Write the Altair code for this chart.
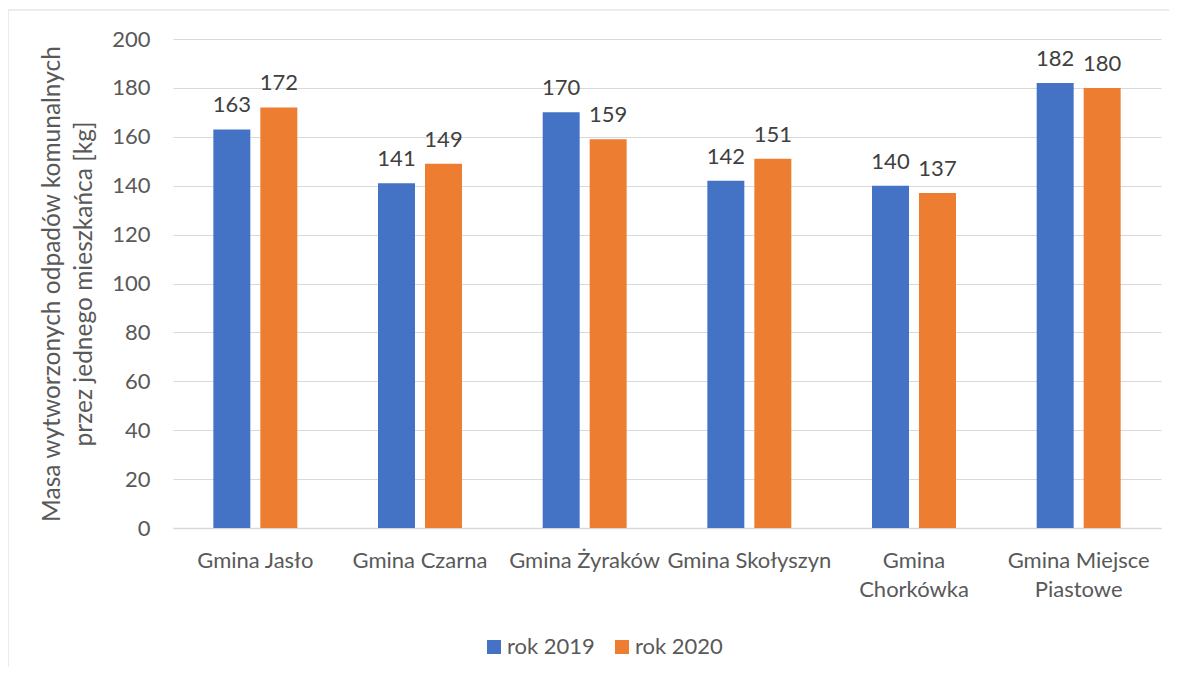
import altair as alt
import pandas as pd

gminy = ["Gmina Jasło", "Gmina Czarna", "Gmina Żyraków", "Gmina Skołyszyn",
         "Gmina|Chorkówka", "Gmina Miejsce|Piastowe"]
serie = ["rok 2019", "rok 2020"]
rok2019 = [163, 141, 170, 142, 140, 182]
rok2020 = [172, 149, 159, 151, 137, 180]
y_ticks = [0, 20, 40, 60, 80, 100, 120, 140, 160, 180, 200]

rows = []
for g, a, b in zip(gminy, rok2019, rok2020):
    rows.append({"gmina": g, "rok": serie[0], "v": a})
    rows.append({"gmina": g, "rok": serie[1], "v": b})
df = pd.DataFrame(rows)

FONT = "Lato"
GRAY = "#595959"
W, H = 988, 489

x_enc = alt.X("gmina:N", sort=gminy,
              scale=alt.Scale(paddingInner=0.49, paddingOuter=0.245),
              axis=alt.Axis(title=None, labelAngle=0, labelExpr="split(datum.label, '|')",
                            ticks=False, domainColor="#d9d9d9", domainWidth=1.5,
                            labelPadding=22, labelBaseline="top", labelLineHeight=29,
                            labelFont=FONT, labelFontSize=22, labelColor=GRAY,
                            labelLimit=400, labelOverlap=False, grid=False))
xo_enc = alt.XOffset("rok:N", sort=serie, scale=alt.Scale(paddingInner=0.213, paddingOuter=0))
y_enc = alt.Y("v:Q", scale=alt.Scale(domain=[0, 200], nice=False),
              axis=alt.Axis(values=y_ticks, grid=True, gridColor="#d9d9d9", domain=False,
                            ticks=False, labelPadding=23, labelFont=FONT, labelFontSize=22,
                            labelColor=GRAY,
                            title=["Masa wytworzonych odpadów komunalnych",
                                   "przez jednego mieszkańca [kg]"],
                            titleFont=FONT, titleFontSize=24.5, titleFontWeight="normal",
                            titleColor=GRAY, titleX=-133, titleY=H / 2, titleAngle=270,
                            titleBaseline="top", titleAlign="center", titleLineHeight=32))

base = alt.Chart(df)
bars = base.mark_bar().encode(
    x=x_enc, xOffset=xo_enc, y=y_enc,
    color=alt.Color("rok:N", sort=serie,
                    scale=alt.Scale(domain=serie, range=["#4472C4", "#ED7D31"]),
                    legend=alt.Legend(title=None, orient="none", legendX=310, legendY=597,
                                      direction="horizontal", symbolType="square",
                                      symbolSize=196, symbolStrokeWidth=0,
                                      labelFont=FONT, labelFontSize=22, labelColor=GRAY,
                                      labelOffset=2, columnPadding=16))
)
labels = base.mark_text(baseline="alphabetic", dy=-17, font=FONT, fontSize=22,
                        color="#404040").encode(
    x=alt.X("gmina:N", sort=gminy, axis=alt.Axis(grid=False)),
    xOffset=alt.XOffset("rok:N", sort=serie),
    y="v:Q", text="v:Q")

frame = pd.DataFrame({"a": [0]})
top_border = alt.Chart(frame).mark_rule(color="#d9d9d9", strokeWidth=1).encode(
    x=alt.value(-165), x2=alt.value(W + 8), y=alt.value(-29))
left_border = alt.Chart(frame).mark_rule(color="#d9d9d9", strokeWidth=1).encode(
    x=alt.value(-165), y=alt.value(-29), y2=alt.value(H + 139))

chart = alt.layer(bars, labels, top_border, left_border).properties(
    width=W, height=H,
    autosize=alt.AutoSizeParams(type="none"),
    padding={"left": 165, "top": 31, "right": 8, "bottom": 139},
).configure(font=FONT).configure_view(strokeWidth=0, stroke="transparent")

chart.save("out.html", embed_options={"renderer": "svg", "actions": False})
